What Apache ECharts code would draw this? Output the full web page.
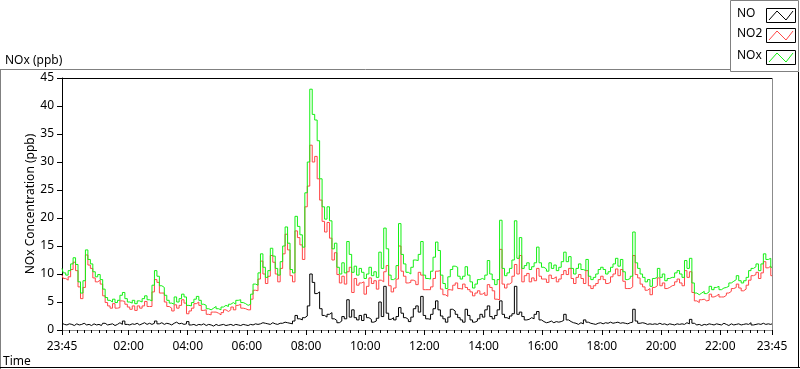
<!DOCTYPE html>
<html>
<head>
<meta charset="utf-8">
<script src="https://cdn.jsdelivr.net/npm/echarts@6/dist/echarts.min.js"></script>
<style>
html,body{margin:0;padding:0;background:#fff;}
#chart{width:800px;height:369px;}
</style>
</head>
<body>
<div id="chart"></div>
<script>
// ---- data (5-minute samples starting 23:45) ----
const sampleStepMinutes = 5;
const xTickLabels = ['23:45','02:00','04:00','06:00','08:00','10:00','12:00','14:00','16:00','18:00','20:00','22:00','23:45'];
const seriesNames = ['NO','NO2','NOx'];

const noxValues = [
11.0,10.2,9.8,10.6,11.8,12.9,11.7,8.6,6.6,8.8,14.3,12.6,
11.8,10.4,9.5,9.9,9.0,7.3,5.8,5.3,5.0,5.5,4.9,5.3,
6.2,6.7,5.6,5.0,4.8,5.3,4.7,5.2,5.0,5.6,6.1,5.4,
5.2,8.0,10.6,9.6,7.9,7.6,6.2,5.3,4.8,4.6,5.9,5.0,
5.6,6.4,5.9,4.4,4.3,4.9,5.5,6.0,5.3,4.6,4.4,3.8,
3.6,3.9,4.2,3.8,3.6,4.1,4.4,4.2,4.6,4.9,4.6,5.3,
5.4,4.9,4.7,4.4,4.6,6.4,8.2,8.0,10.2,13.6,11.2,9.4,
10.6,14.6,13.2,11.0,9.8,12.2,15.0,18.4,15.5,10.8,10.2,20.3,
18.5,17.0,14.8,24.5,30.0,43.0,38.5,37.5,33.8,27.0,22.0,19.8,
22.0,19.5,14.5,15.5,11.2,10.0,12.0,10.2,15.8,13.5,10.3,11.4,
9.8,11.0,10.3,9.2,10.0,11.2,9.7,10.4,9.4,13.9,11.0,18.2,
14.5,9.8,9.0,9.3,11.5,19.0,13.5,11.8,10.3,10.0,11.2,12.5,
12.4,13.5,15.8,9.8,9.2,9.1,10.5,13.0,15.7,14.2,9.8,8.3,
7.4,9.5,10.8,11.4,11.2,9.6,9.1,9.6,11.3,9.8,8.6,7.5,
8.2,9.0,9.2,9.0,9.8,12.4,10.0,9.0,8.1,9.0,19.6,11.0,
9.7,10.2,11.0,12.5,19.5,12.8,16.5,11.0,11.5,12.0,10.8,11.3,
12.0,14.8,12.0,11.2,10.9,10.5,12.0,11.0,11.6,10.6,11.2,12.2,
13.9,12.2,13.1,11.0,10.0,11.0,11.8,10.8,10.6,12.6,9.6,9.0,
9.4,10.0,10.8,11.2,10.8,10.0,10.4,11.2,11.8,12.8,11.4,12.6,
10.4,9.0,9.2,9.6,17.5,12.0,11.0,10.0,9.4,8.6,9.0,7.8,
9.2,9.4,11.0,9.4,10.0,8.8,9.2,9.4,9.4,10.2,10.6,10.0,
9.4,12.4,11.0,12.8,8.4,6.6,6.3,6.6,6.9,6.5,6.8,7.8,
7.2,7.6,7.8,7.2,7.5,7.6,7.8,8.4,8.7,9.0,9.7,8.8,
8.4,8.8,9.4,10.6,11.0,11.3,11.8,10.6,11.8,13.6,12.6,12.8,11.2
];

const no2Values = [
9.8,9.2,8.9,9.5,10.8,12.1,10.6,7.7,5.6,7.6,13.4,11.6,
11.0,9.3,8.6,8.9,8.2,6.1,4.9,4.3,3.9,4.7,3.9,4.0,
5.2,5.1,4.6,4.1,3.7,4.3,3.5,4.3,3.9,4.3,5.1,4.2,
4.2,6.8,9.0,8.5,6.6,6.6,5.0,4.2,3.9,3.4,4.5,3.9,
4.4,5.4,4.8,2.9,3.4,3.9,4.7,5.0,4.4,3.5,3.6,2.8,
2.7,3.2,3.2,3.0,2.7,3.1,3.6,3.3,3.6,4.1,3.6,4.4,
4.6,3.9,3.8,3.6,3.6,5.5,7.1,7.0,9.1,12.3,10.0,8.3,
9.6,13.3,12.1,10.0,8.6,11.0,13.6,17.1,14.3,9.7,8.6,17.7,
16.5,15.2,12.6,22.0,25.7,33.0,30.0,31.0,27.0,23.2,19.4,17.5,
19.2,16.4,12.5,13.8,9.9,8.4,9.6,8.2,10.4,11.2,6.7,9.2,
8.0,8.4,8.6,6.4,7.8,9.3,8.3,8.8,7.3,8.9,8.6,10.4,
11.5,7.9,6.8,7.5,9.1,15.0,10.5,9.6,8.4,8.5,8.9,8.7,
8.1,10.3,9.8,7.2,7.2,7.2,7.7,9.2,10.5,10.6,7.3,6.3,
6.0,7.2,7.1,8.0,8.4,7.4,7.3,8.2,7.6,7.2,6.8,6.1,
6.6,7.0,6.4,6.7,6.2,8.1,7.6,7.0,5.5,5.4,14.4,8.2,
7.5,8.2,8.5,9.6,11.7,10.0,13.3,8.6,9.7,10.1,8.6,9.3,
8.8,11.0,9.6,9.1,9.1,8.5,9.8,9.2,9.5,8.6,9.1,9.9,
10.6,9.9,11.0,9.2,8.3,9.4,9.9,9.2,8.3,10.6,7.9,7.4,
7.9,8.3,9.0,9.6,9.0,8.3,8.5,9.5,10.0,10.9,9.7,10.8,
8.7,7.4,7.4,7.7,13.3,9.9,9.3,8.2,7.7,7.1,7.4,6.3,
7.6,7.9,9.3,7.9,8.4,7.4,7.6,7.9,8.0,8.6,9.1,8.4,
7.9,10.6,9.4,10.4,6.7,5.2,4.9,5.4,5.5,5.2,5.3,6.4,
5.9,6.1,6.4,5.9,5.9,6.2,6.6,6.9,7.4,7.6,8.2,7.5,
7.0,7.3,8.0,8.9,9.7,9.9,10.3,9.2,10.2,12.2,11.1,11.4,9.7
];

const noValues = [
1.2,1.0,0.9,1.1,1.0,0.8,1.1,0.9,1.0,1.2,0.9,1.0,
0.8,1.1,0.9,1.0,0.8,1.2,0.9,1.0,1.1,0.8,1.0,1.3,
1.0,1.6,1.0,0.9,1.1,1.0,1.2,0.9,1.1,1.3,1.0,1.2,
1.0,1.2,1.6,1.1,1.3,1.0,1.2,1.1,0.9,1.2,1.4,1.1,
1.2,1.0,1.1,1.5,0.9,1.0,0.8,1.0,0.9,1.1,0.8,1.0,
0.9,0.7,1.0,0.8,0.9,1.0,0.8,0.9,1.0,0.8,1.0,0.9,
0.8,1.0,0.9,0.8,1.0,0.9,1.1,1.0,1.1,1.3,1.2,1.1,
1.0,1.3,1.1,1.0,1.2,1.2,1.4,1.3,1.2,1.1,1.6,2.6,
2.0,1.8,2.2,2.5,4.3,10.0,8.5,6.5,6.8,3.8,2.6,2.3,
2.8,3.1,2.0,1.7,1.3,1.6,2.4,2.0,5.4,2.3,3.6,2.2,
1.8,2.6,1.7,2.8,2.2,1.9,1.4,1.6,2.1,5.0,2.4,7.8,
3.0,1.9,2.2,1.8,2.4,4.0,3.0,2.2,1.9,1.5,2.3,3.8,
4.3,3.2,6.0,2.6,2.0,1.9,2.8,3.8,5.2,3.6,2.5,2.0,
1.4,2.3,3.7,3.4,2.8,2.2,1.8,1.4,3.7,2.6,1.8,1.4,
1.6,2.0,2.8,2.3,3.6,4.3,2.4,2.0,2.6,3.6,5.2,2.8,
2.2,2.0,2.5,2.9,7.8,2.8,3.2,2.4,1.8,1.9,2.2,2.0,
2.8,3.3,1.8,1.5,1.3,1.4,1.6,1.3,1.5,1.4,1.5,1.7,
2.8,1.8,1.5,1.3,1.2,1.0,1.3,1.1,1.8,1.4,1.2,1.1,
1.0,1.2,1.3,1.1,1.3,1.2,1.4,1.2,1.3,1.4,1.2,1.3,
1.2,1.1,1.3,1.4,3.7,1.6,1.2,1.3,1.2,1.0,1.1,1.0,
1.1,1.0,1.2,1.0,1.1,0.9,1.1,1.0,0.9,1.1,1.0,1.1,
1.0,1.3,1.1,1.9,1.2,0.9,1.0,0.8,1.0,0.9,1.1,1.0,
0.9,1.1,1.0,0.9,1.2,1.0,0.8,1.1,0.9,1.0,1.1,0.9,
1.0,1.1,1.0,1.3,0.9,1.0,1.1,1.0,1.2,1.0,1.1,1.0,1.1
];

// ---- build ----
const FONT = 'Noto Sans, DejaVu Sans, sans-serif';
const colors = ['#000000', '#ff4646', '#14f014'];

function toMinutesFromStart(label, idx, arr) {
  if (idx === arr.length - 1) return 1440;
  const p = label.split(':');
  const m = (+p[0]) * 60 + (+p[1]);
  const start = 23 * 60 + 45;
  return ((m - start) % 1440 + 1440) % 1440;
}
const tickPos = xTickLabels.map(toMinutesFromStart);
function labelFor(v) {
  const i = tickPos.indexOf(Math.round(v));
  return i >= 0 ? xTickLabels[i] : '';
}
function pairs(values) {
  return values.map((v, i) => [i * sampleStepMinutes, v]);
}

const chart = echarts.init(document.getElementById('chart'), null, {renderer: 'canvas'});
const valueSets = [noValues, no2Values, noxValues];

function legendItem(idx, top) {
  return [
    {type: 'text', left: 737, top: top - 7, style: {text: seriesNames[idx], fill: '#000', font: '12px ' + FONT}},
    {type: 'rect', shape: {x: 766.5, y: top - 6.5, width: 29, height: 14}, style: {fill: '#fff', stroke: '#000', lineWidth: 1}},
    {type: 'polyline', shape: {points: [[769, top + 5], [777, top - 4], [786, top + 5], [793, top - 4]]}, style: {stroke: colors[idx], lineWidth: 1, fill: null}}
  ];
}

const graphics = [
  // outer frame
  {type: 'line', shape: {x1: 0, y1: 69.5, x2: 731, y2: 69.5}, style: {stroke: '#808080', lineWidth: 1}},
  {type: 'line', shape: {x1: 0.5, y1: 69, x2: 0.5, y2: 369}, style: {stroke: '#808080', lineWidth: 1}},
  {type: 'line', shape: {x1: 0, y1: 367.5, x2: 800, y2: 367.5}, style: {stroke: '#000', lineWidth: 1}},
  {type: 'line', shape: {x1: 798.5, y1: 72, x2: 798.5, y2: 368}, style: {stroke: '#000', lineWidth: 1}},
  // legend box
  {type: 'rect', shape: {x: 730.5, y: 0.5, width: 68, height: 71}, style: {fill: '#fff', stroke: '#808080', lineWidth: 1}},
  // plot frame
  {type: 'line', shape: {x1: 61, y1: 78.5, x2: 773, y2: 78.5}, style: {stroke: '#000', lineWidth: 1}},
  {type: 'line', shape: {x1: 772.5, y1: 78, x2: 772.5, y2: 330}, style: {stroke: '#8c8c8c', lineWidth: 1}},
  // texts
  {type: 'text', left: 5, top: 55, style: {text: 'NOx (ppb)', fill: '#000', font: '12px ' + FONT}},
  {type: 'text', left: 3, top: 356, style: {text: 'Time', fill: '#000', font: '12px ' + FONT}}
].concat(legendItem(0, 15), legendItem(1, 35), legendItem(2, 57));

chart.setOption({
  animation: false,
  backgroundColor: '#fff',
  textStyle: {fontFamily: FONT},
  grid: {left: 62, top: 78, right: 28, bottom: 39, show: false},
  xAxis: [
    {
      type: 'value', min: 0, max: 1440, position: 'bottom',
      axisLine: {show: true, lineStyle: {color: '#8c8c8c', width: 1}},
      axisTick: {show: true, customValues: tickPos, length: 5, lineStyle: {color: '#000'}},
      axisLabel: {customValues: tickPos, formatter: labelFor, color: '#000', fontSize: 12, fontFamily: FONT, margin: 11},
      splitLine: {show: false}
    },
    {
      type: 'value', min: 0, max: 1440, interval: 15, position: 'bottom',
      axisLine: {show: false},
      axisTick: {show: true, length: 3, lineStyle: {color: '#000'}},
      axisLabel: {show: false},
      splitLine: {show: false}
    }
  ],
  yAxis: {
    type: 'value', min: 0, max: 45, interval: 5,
    axisLine: {show: true, lineStyle: {color: '#000', width: 1}},
    axisTick: {show: true, length: 5, lineStyle: {color: '#000'}},
    axisLabel: {color: '#000', fontSize: 12, fontFamily: FONT, margin: 8},
    splitLine: {show: false},
    name: 'NOx Concentration (ppb)', nameLocation: 'middle', nameGap: 25,
    nameMoveOverlap: false,
    nameTextStyle: {color: '#000', fontSize: 12, fontFamily: FONT}
  },
  series: seriesNames.map((n, idx) => ({
    name: n, type: 'line', xAxisIndex: 0, yAxisIndex: 0,
    data: pairs(valueSets[idx]),
    showSymbol: false, symbol: 'none', step: 'middle',
    lineStyle: {color: colors[idx], width: 1},
    itemStyle: {color: colors[idx]},
    silent: true, z: 2 + idx
  })),
  graphic: graphics
});
</script>
</body>
</html>
